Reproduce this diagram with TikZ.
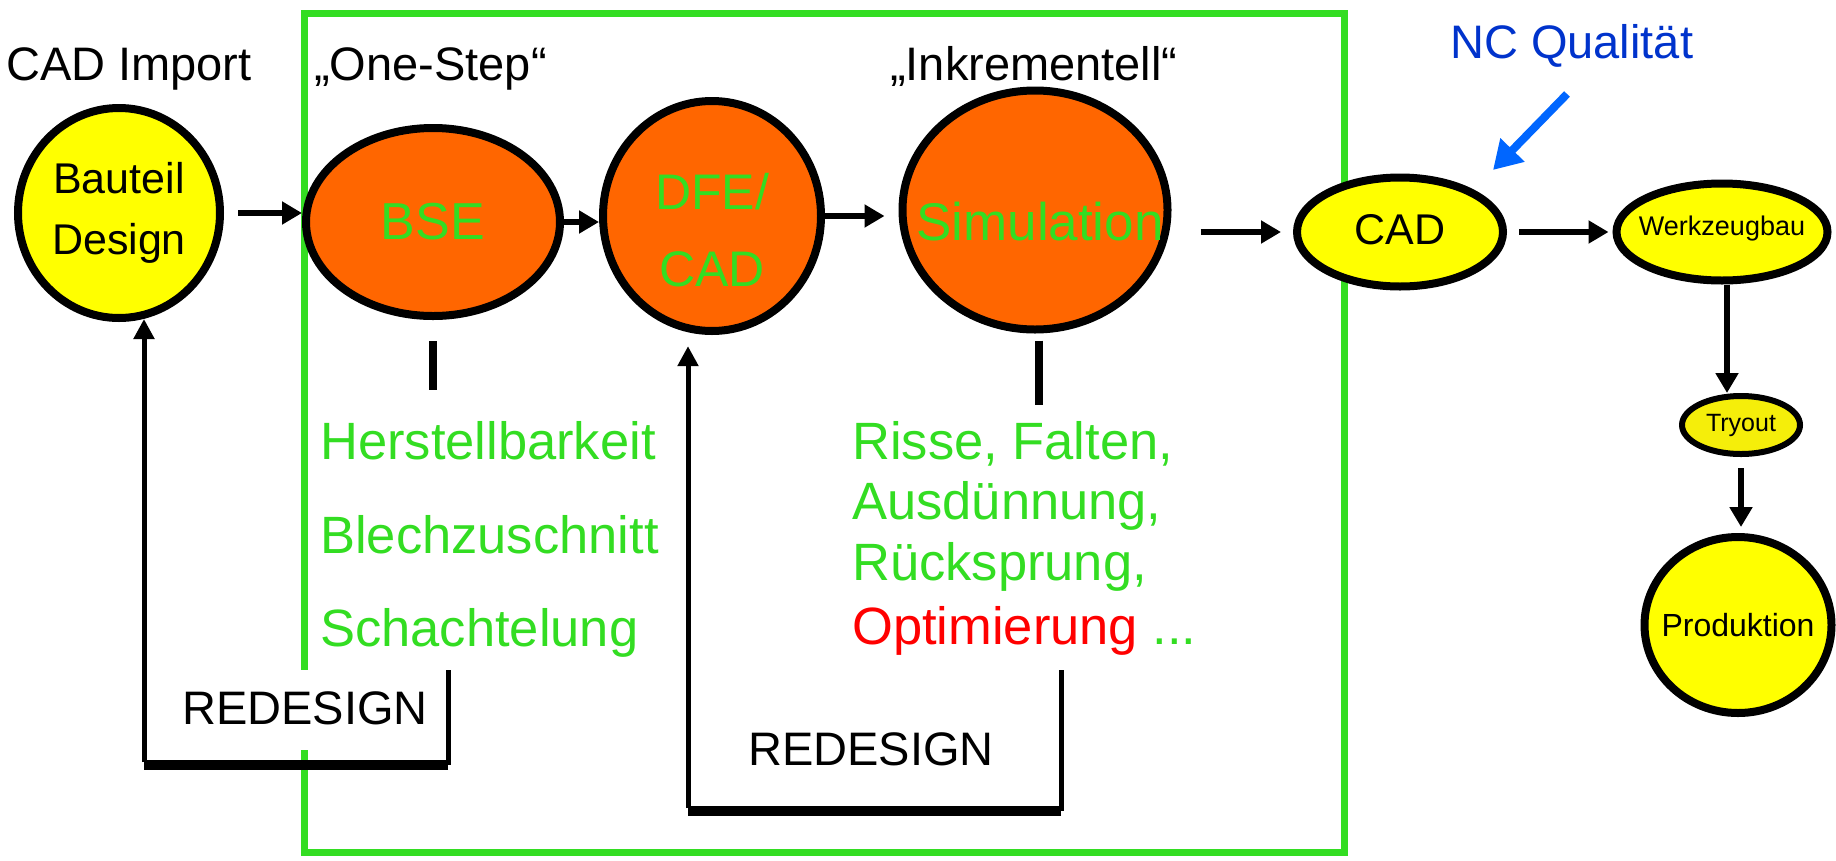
\documentclass[tikz,border=0pt]{standalone}
\usepackage{fontspec}
\setmainfont{Liberation Sans}
\usetikzlibrary{shapes.geometric,arrows.meta}
\definecolor{yel}{HTML}{FFFF00}
\definecolor{tryyel}{HTML}{F5EE0A}
\definecolor{org}{HTML}{FF6600}
\definecolor{grn}{HTML}{33DD22}
\definecolor{ncblue}{HTML}{0033CC}
\definecolor{arrblue}{HTML}{0066FF}
\newcommand{\fs}[1]{\fontsize{#1}{1.2\dimexpr #1pt\relax}\selectfont}
\begin{document}
\begin{tikzpicture}[x=1pt,y=-1pt,
  bub/.style={ellipse, draw=black, line width=8pt, inner sep=0pt},
  ybub/.style={bub, fill=yel},
  obub/.style={bub, fill=org},
  intxt/.style={inner sep=0pt, align=center},
  arr/.style={line width=6pt, -{Triangle[length=20pt,width=22pt]}},
  lp/.style={line width=5pt},
  lpthick/.style={line width=10pt},
  lparr/.style={line width=5pt, -{Triangle[length=20pt,width=20pt]}},
  tickline/.style={line width=8pt},
  barr/.style={draw=arrblue, line width=8pt, -{Triangle[length=28pt,width=32pt]}},
  lbl/.style={anchor=base west, inner sep=0pt, font=\fs{47}},
  gtxt/.style={anchor=base west, inner sep=0pt, text=grn, font=\fs{52.5}},
  redes/.style={anchor=base west, inner xsep=4pt, inner ysep=0pt, fill=white, text height=54pt, text depth=26pt, font=\fs{47}}
]
\useasboundingbox (0,0) rectangle (1836,860);
\fill[white] (0,0) rectangle (1836,860);

% green frame
\draw[grn, line width=7pt] (304,13) rectangle (1344,852);

% top labels
\node[lbl] (cadimp) at (6,80) {CAD Import};
\node[lbl] (onestep) at (314,80) {„One-Step“};
\node[lbl] (inkr) at (890,80) {„Inkrementell“};
\node[lbl, text=ncblue] (nc) at (1450,58) {NC Qualität};

% bubbles
\node[ybub, minimum width=202pt, minimum height=210pt] (bauteil) at (119,213) {};
\node[obub, minimum width=254pt, minimum height=188pt] (bse) at (433,222) {};
\node[obub, minimum width=218pt, minimum height=230pt] (dfe) at (712,216) {};
\node[obub, minimum width=265pt, minimum height=239pt] (sim) at (1035,210) {};
\node[ybub, minimum width=206pt, minimum height=109pt] (cad) at (1400,232) {};
\node[ybub, minimum width=211pt, minimum height=97pt] (wz) at (1722,232) {};
\node[bub, fill=tryyel, line width=6pt, minimum width=118pt, minimum height=58pt] (try) at (1741,425) {};
\node[ybub, minimum width=187pt, minimum height=176pt] (prod) at (1738,625) {};

% bubble texts
\node[intxt, font=\fontsize{43}{61}\selectfont] (bauteilt) at (bauteil) {Bauteil\\Design};
\node[intxt, text=grn, font=\fs{52}] (bset) at (bse) {BSE};
\node[intxt, text=grn, font=\fontsize{50}{77}\selectfont] (dfet) at ([yshift=-14pt]dfe.center) {DFE/\\CAD};
\node[intxt, text=grn, font=\fs{53}] (simt) at ([xshift=5pt,yshift=-12pt]sim.center) {Simulation};
\node[intxt, font=\fs{43}] (cadt) at ([yshift=2pt]cad.center) {CAD};
\node[intxt, font=\fs{27}] (wzt) at ([yshift=3pt]wz.center) {Werkzeugbau};
\node[intxt, font=\fs{25}] (tryt) at (try) {Tryout};
\node[intxt, font=\fs{32}] (prodt) at (prod) {Produktion};

% flow arrows
\draw[arr, shorten <=14pt] (bauteil.east) -- (bauteil.east -| bse.west);
\draw[arr] (bse.east) -- (bse.east -| dfe.west);
\draw[arr, shorten >=14pt] (dfe.east) -- (dfe.east -| sim.west);
\draw[arr, shorten <=29pt, shorten >=12pt] (cad.west -| sim.east) -- (cad.west);
\draw[arr, shorten <=12pt, shorten >=4pt] (cad.east) -- (cad.east -| wz.west);
\draw[arr] ([xshift=5pt]wz.south) -- ([xshift=5pt]wz.south |- try.north);
\draw[arr, shorten <=11pt, shorten >=6pt] (try.south) -- (try.south |- prod.north);

% blue arrow
\coordinate (nca) at (1567,94);
\coordinate (ncb) at (1493,170);
\draw[barr] (nca) -- (ncb);

% ticks
\draw[tickline] ([yshift=-21pt]bse.south) -- ([yshift=-70pt]bse.south);
\draw[tickline] ([xshift=4pt,yshift=-7pt]sim.south) -- ([xshift=4pt,yshift=-71pt]sim.south);

% green lists
\node[gtxt] (h1) at (320,459) {Herstellbarkeit};
\node[gtxt] (h2) at (320,553) {Blechzuschnitt};
\node[gtxt] (h3) at (320,646) {Schachtelung};
\node[gtxt] (r1) at (852,459) {Risse, Falten,};
\node[gtxt] (r2) at (852,519) {Ausdünnung,};
\node[gtxt] (r3) at (852,580) {Rücksprung,};
\node[gtxt] (r4) at (852,644) {\textcolor{red}{Optimierung} ...};

% redesign loop 1
\coordinate (l1a) at (448,670);
\coordinate (l1b) at (144,762);
\node[redes] (rd1) at (178,724) {REDESIGN};
\draw[lp] (l1a) |- (l1b);
\draw[lpthick] ([yshift=-3pt]l1a |- l1b) -- ([yshift=-3pt]l1b);
\draw[lparr] (l1b) -- (l1b |- bauteil.-77);

% redesign loop 2
\coordinate (l2a) at (1061,670);
\coordinate (l2b) at (688,808);
\node[redes] (rd2) at (744,765) {REDESIGN};
\draw[lp] (l2a) |- (l2b);
\draw[lpthick] ([yshift=-3pt]l2a |- l2b) -- ([yshift=-3pt]l2b);
\draw[lparr, shorten >=14pt] (l2b) -- (l2b |- dfe.-102);
\end{tikzpicture}
\end{document}
